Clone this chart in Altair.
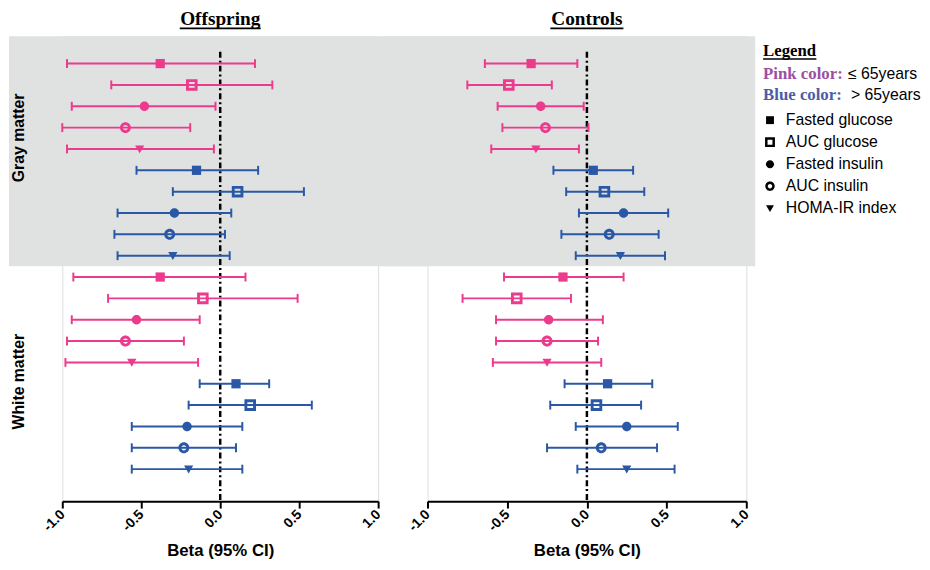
import altair as alt
import pandas as pd

# ---------------- data ----------------
metrics = ["Fasted glucose", "AUC glucose", "Fasted insulin", "AUC insulin", "HOMA-IR index"]
age_groups = ["≤ 65years", "> 65years"]
matters = ["Gray matter", "White matter"]

# Offspring
off_gray_young_beta = [-0.38, -0.18, -0.48, -0.60, -0.51]
off_gray_young_lo = [-0.97, -0.69, -0.94, -1.00, -0.97]
off_gray_young_hi = [0.22, 0.33, -0.03, -0.19, -0.04]
off_gray_old_beta = [-0.15, 0.11, -0.29, -0.32, -0.30]
off_gray_old_lo = [-0.53, -0.30, -0.65, -0.67, -0.65]
off_gray_old_hi = [0.24, 0.53, 0.07, 0.03, 0.06]
off_white_young_beta = [-0.38, -0.11, -0.53, -0.60, -0.56]
off_white_young_lo = [-0.93, -0.71, -0.94, -0.97, -0.98]
off_white_young_hi = [0.16, 0.49, -0.13, -0.23, -0.14]
off_white_old_beta = [0.10, 0.19, -0.21, -0.23, -0.20]
off_white_old_lo = [-0.13, -0.20, -0.56, -0.56, -0.56]
off_white_old_hi = [0.31, 0.58, 0.14, 0.10, 0.14]

# Controls
con_gray_young_beta = [-0.35, -0.49, -0.29, -0.26, -0.32]
con_gray_young_lo = [-0.64, -0.75, -0.56, -0.53, -0.60]
con_gray_young_hi = [-0.06, -0.22, -0.02, 0.01, -0.05]
con_gray_old_beta = [0.04, 0.11, 0.23, 0.14, 0.21]
con_gray_old_lo = [-0.21, -0.13, -0.05, -0.16, -0.07]
con_gray_old_hi = [0.29, 0.36, 0.51, 0.45, 0.49]
con_white_young_beta = [-0.15, -0.44, -0.24, -0.25, -0.25]
con_white_young_lo = [-0.52, -0.78, -0.57, -0.57, -0.59]
con_white_young_hi = [0.23, -0.10, 0.10, 0.07, 0.09]
con_white_old_beta = [0.13, 0.06, 0.25, 0.09, 0.25]
con_white_old_lo = [-0.14, -0.23, -0.07, -0.25, -0.06]
con_white_old_hi = [0.41, 0.34, 0.57, 0.44, 0.55]

tick_values = [-1.0, -0.5, 0.0, 0.5, 1.0]

PINK = "#EC3A8D"
BLUE = "#2A58A6"
GRAY_BG = "#E0E1E1"


def build(sets):
    rows = []
    for m_i, matter in enumerate(matters):
        for a_i, age in enumerate(age_groups):
            beta, lo, hi = sets[(m_i, a_i)]
            for k, metric in enumerate(metrics):
                rows.append({
                    "row": m_i * 10 + a_i * 5 + k,
                    "matter": matter,
                    "age": age,
                    "metric": metric,
                    "beta": beta[k],
                    "lo": lo[k],
                    "hi": hi[k],
                })
    return pd.DataFrame(rows)


off_df = build({
    (0, 0): (off_gray_young_beta, off_gray_young_lo, off_gray_young_hi),
    (0, 1): (off_gray_old_beta, off_gray_old_lo, off_gray_old_hi),
    (1, 0): (off_white_young_beta, off_white_young_lo, off_white_young_hi),
    (1, 1): (off_white_old_beta, off_white_old_lo, off_white_old_hi),
})
con_df = build({
    (0, 0): (con_gray_young_beta, con_gray_young_lo, con_gray_young_hi),
    (0, 1): (con_gray_old_beta, con_gray_old_lo, con_gray_old_hi),
    (1, 0): (con_white_young_beta, con_white_young_lo, con_white_young_hi),
    (1, 1): (con_white_old_beta, con_white_old_lo, con_white_old_hi),
})

# marker shapes (custom paths; open ones have a hole)
SHAPES = [
    "M-0.8,-0.8H0.8V0.8H-0.8Z",
    "M-1,-1H1V1H-1Z M-0.5,-0.5V0.5H0.5V-0.5Z",
    "M-0.82,0A0.82,0.82 0 1,0 0.82,0A0.82,0.82 0 1,0 -0.82,0Z",
    "M-0.95,0A0.95,0.95 0 1,0 0.95,0A0.95,0.95 0 1,0 -0.95,0Z M-0.45,0A0.45,0.45 0 1,1 0.45,0A0.45,0.45 0 1,1 -0.45,0Z",
    "M-0.8,-0.62L0.8,-0.62L0,0.75Z",
]

Y_DOMAIN = [-1.28, 20.5]
H = 471

SANS = "Liberation Sans"
SERIF = "Liberation Serif"


def panel(df, title, W, title_half, gray_x, gray_x2, with_legend, with_row_labels):
    x_scale = alt.Scale(domain=[-1, 1], nice=False, zero=False)
    y_scale = alt.Scale(domain=Y_DOMAIN, reverse=True, nice=False, zero=False)
    color = alt.Color("age:N", scale=alt.Scale(domain=age_groups, range=[PINK, BLUE]), legend=None)

    band = alt.Chart(pd.DataFrame({"top": [Y_DOMAIN[0]], "bottom": [9.5]})).mark_rect(
        color=GRAY_BG
    ).encode(
        x=alt.value(gray_x), x2=alt.value(gray_x2),
        y=alt.Y("top:Q", scale=y_scale, axis=None), y2="bottom:Q",
    )

    axis = alt.Axis(
        values=tick_values, labelAngle=315, labelAlign="right", labelBaseline="middle",
        labelFlush=False, labelFont=SANS, labelFontSize=14, labelFontWeight="bold",
        labelColor="black", labelPadding=4,
        labelExpr="replace(format(datum.value, '.1f'), '−', '-')",
        domainColor="black", domainWidth=2, tickColor="black", tickWidth=2, tickSize=7,
        grid=False, title="Beta (95% CI)", titleFont=SANS, titleFontSize=17,
        titleFontWeight="bold", titleColor="black", titlePadding=9,
    )

    zero = alt.Chart(pd.DataFrame({"x": [0.0], "y0": [-0.55], "y1": [Y_DOMAIN[1]]})).mark_rule(
        color="black", strokeWidth=2.5, strokeDash=[6, 3, 2, 3]
    ).encode(
        x=alt.X("x:Q", scale=x_scale, axis=axis),
        y=alt.Y("y0:Q", scale=y_scale, axis=None), y2="y1:Q",
    )

    base = alt.Chart(df)
    bars = base.mark_rule(strokeWidth=2).encode(
        x=alt.X("lo:Q", scale=x_scale), x2="hi:Q",
        y=alt.Y("row:Q", scale=y_scale), color=color,
    )
    cap_lo = base.mark_tick(orient="vertical", thickness=2, size=9, opacity=1).encode(
        x=alt.X("lo:Q", scale=x_scale), y=alt.Y("row:Q", scale=y_scale), color=color,
    )
    cap_hi = base.mark_tick(orient="vertical", thickness=2, size=9, opacity=1).encode(
        x=alt.X("hi:Q", scale=x_scale), y=alt.Y("row:Q", scale=y_scale), color=color,
    )
    if with_legend:
        legend = alt.Legend(
            orient="none", legendX=339, legendY=77, title=None,
            symbolSize=100, symbolFillColor="black", symbolStrokeColor="black",
            symbolStrokeWidth=0, labelFont=SANS, labelFontSize=16, labelColor="black",
            rowPadding=6.3, labelOffset=8, padding=0,
        )
    else:
        legend = None
    points = base.mark_point(filled=True, size=137, opacity=1).encode(
        x=alt.X("beta:Q", scale=x_scale), y=alt.Y("row:Q", scale=y_scale), color=color,
        shape=alt.Shape("metric:N", scale=alt.Scale(domain=metrics, range=SHAPES), legend=legend),
    )

    title_df = pd.DataFrame({"t": [title]})
    ttl = alt.Chart(title_df).mark_text(
        font=SERIF, fontSize=19.5, fontWeight="bold", color="black",
        align="center", baseline="alphabetic",
    ).encode(x=alt.value(W / 2), y=alt.value(-11), text="t:N")
    underline = alt.Chart(title_df).mark_rule(color="black", strokeWidth=1.8).encode(
        x=alt.value(W / 2 - title_half), x2=alt.value(W / 2 + title_half), y=alt.value(-8)
    )

    layers = [band, zero, bars, cap_lo, cap_hi, points, ttl, underline]

    if with_row_labels:
        lab_df = pd.DataFrame({"label": matters, "py": [103, 350]})
        labels = alt.Chart(lab_df).mark_text(
            font=SANS, fontSize=16, fontWeight="bold", color="black", angle=270,
            align="center", baseline="middle",
        ).encode(x=alt.value(-44), y=alt.Y("py:Q", scale=None, axis=None), text="label:N")
        layers.append(labels)

    if with_legend:
        hdr = pd.DataFrame({
            "t": ["Legend", "Pink color:", "Blue color:"],
            "c": ["black", "#9B4FA3", "#4A5EA6"],
            "py": [20, 43, 65],
        })
        hdr_txt = alt.Chart(hdr).mark_text(
            font=SERIF, fontSize=17, fontWeight="bold", align="left", baseline="alphabetic",
        ).encode(
            x=alt.value(W + 17), y=alt.Y("py:Q", scale=None, axis=None), text="t:N",
            color=alt.Color("c:N", scale=None),
        )
        age_txt = alt.Chart(pd.DataFrame({"t": age_groups, "py": [43, 65], "px": [W + 103, W + 106]})).mark_text(
            font=SANS, fontSize=16, color="black", align="left", baseline="alphabetic",
        ).encode(
            x=alt.X("px:Q", scale=None, axis=None), y=alt.Y("py:Q", scale=None, axis=None), text="t:N",
        )
        leg_ul = alt.Chart(title_df).mark_rule(color="black", strokeWidth=1.5).encode(
            x=alt.value(W + 17), x2=alt.value(W + 71), y=alt.value(23)
        )
        layers += [hdr_txt, age_txt, leg_ul]

    return alt.layer(*layers).properties(width=W, height=H)


left = panel(off_df, "Offspring", 320, 41, -54, 370, False, True)
right = panel(con_df, "Controls", 323, 37, -45, 332, True, False)

chart = alt.hconcat(left, right, spacing=50, bounds="flush").resolve_scale(
    x="independent", y="independent", shape="independent", color="independent"
).properties(
    padding={"left": 0, "top": -3, "right": 0, "bottom": -2}
).configure_view(stroke=None).configure(background="white")

chart.save("out.html", embed_options={"renderer": "svg", "actions": False})
